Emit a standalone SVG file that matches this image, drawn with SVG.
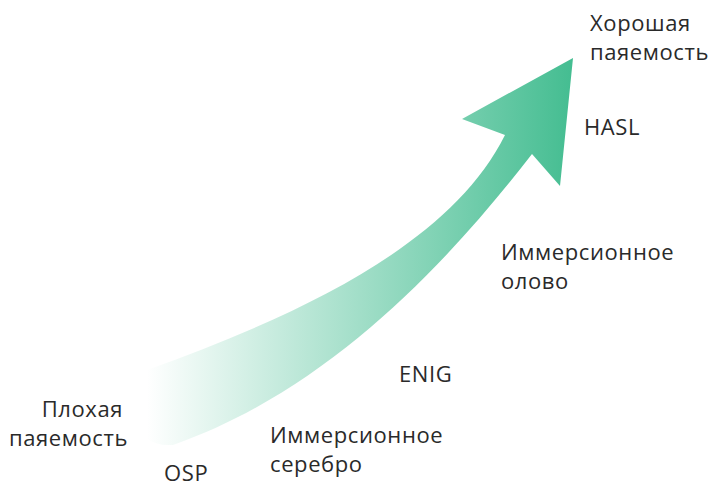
<svg xmlns="http://www.w3.org/2000/svg" width="713" height="486" viewBox="0 0 713 486">
  <style>
    .lbl { font-family: "Open Sans", "Noto Sans", "DejaVu Sans", sans-serif; font-size: 22px; font-weight: 400; letter-spacing: 0.6px; fill: #2a2a2a; }
    .end { text-anchor: end; }
  </style>
  <defs>
    <linearGradient id="arrowFill" gradientUnits="userSpaceOnUse" x1="147" y1="0" x2="573" y2="0">
      <stop offset="0" stop-color="#ffffff"/>
      <stop offset="1" stop-color="#44bd91"/>
    </linearGradient>
  </defs>
  <rect width="713" height="486" fill="#ffffff"/>

  <!-- rising arrow -->
  <g id="arrow">
    <path fill="url(#arrowFill)" d="M147,370 C300,315 450,245 505,135 L462,119 L573,58 L560,186 L532,154 C450,260 330,390 173,445 Q155,446 147,438 Z"/>
  </g>

  <g id="good">
    <text class="lbl" x="590" y="31">Хорошая</text>
    <text class="lbl" x="590" y="60">паяемость</text>
  </g>
  <g id="hasl">
    <text class="lbl" x="584" y="135">HASL</text>
  </g>
  <g id="tin">
    <text class="lbl" x="501" y="260">Иммерсионное</text>
    <text class="lbl" x="501" y="289">олово</text>
  </g>
  <g id="enig">
    <text class="lbl" x="399" y="382">ENIG</text>
  </g>
  <g id="silver">
    <text class="lbl" x="270" y="443">Иммерсионное</text>
    <text class="lbl" x="270" y="472">серебро</text>
  </g>
  <g id="poor">
    <text class="lbl end" x="123" y="417">Плохая</text>
    <text class="lbl end" x="128" y="446">паяемость</text>
  </g>
  <g id="osp">
    <text class="lbl" x="164" y="481">OSP</text>
  </g>
</svg>
